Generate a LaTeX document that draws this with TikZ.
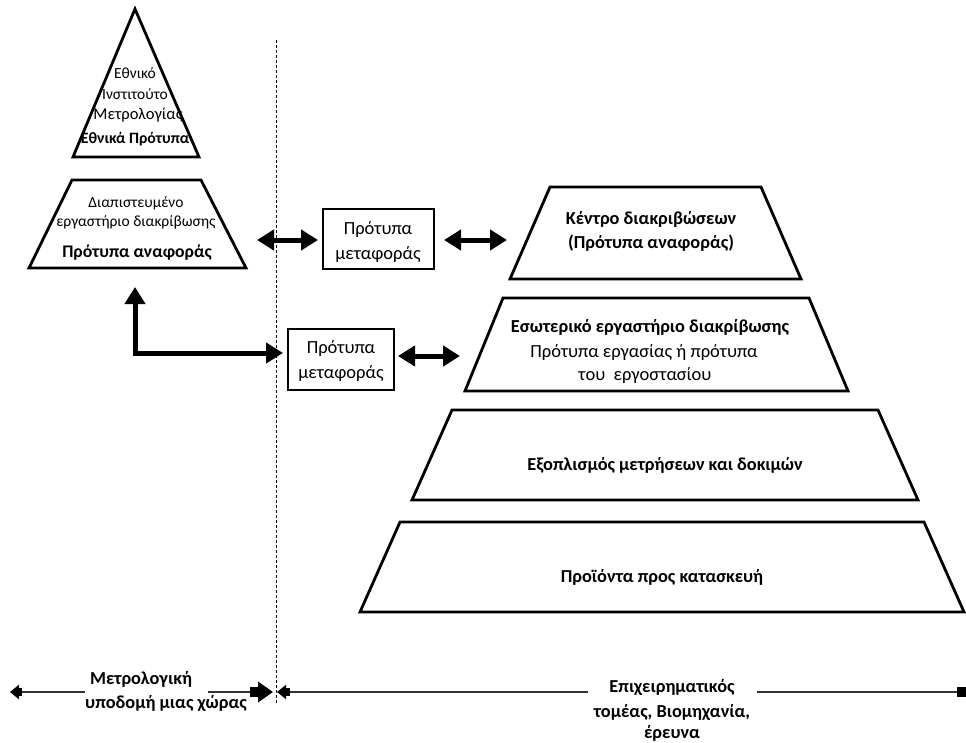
\documentclass[tikz,border=0pt]{standalone}
\usepackage{fontspec}
\setmainfont{Carlito}
\usetikzlibrary{arrows.meta}
\tikzset{
  shapeline/.style={line width=2.8pt, line join=miter},
  bigarrow/.style={line width=5pt, {Triangle[length=17pt,width=20pt]}-{Triangle[length=17pt,width=20pt]}},
  thinline/.style={line width=1.2pt, black!80},
  stubL/.style={line width=8pt, -{Triangle[length=9pt,width=14pt]}},
  stubB/.style={line width=10pt, -{Triangle[length=15pt,width=20pt]}},
  txt/.style={font=\fontsize{18.5}{20}\selectfont, align=center, inner sep=0pt},
  btxt/.style={font=\fontsize{18.3}{20}\selectfont\bfseries, align=center, inner sep=0pt},
  stxt/.style={font=\fontsize{15.5}{18}\selectfont, align=center, inner sep=0pt},
  sbtxt/.style={font=\fontsize{15.8}{18}\selectfont\bfseries, align=center, inner sep=0pt},
}
\begin{document}
\begin{tikzpicture}[x=1pt,y=-1pt]
\useasboundingbox (0,0) rectangle (966,742);
% shapes
\draw[shapeline] (135,9) -- (199,157) -- (73,157) -- cycle;
\draw[shapeline] (72,180) -- (201,180) -- (246,268) -- (29,268) -- cycle;
\draw[shapeline] (550,187) -- (761,187) -- (801,279) -- (510,279) -- cycle;
\draw[shapeline] (503,298) -- (809,298) -- (848,391) -- (465,391) -- cycle;
\draw[shapeline] (452,410) -- (878,410) -- (918,500) -- (412,500) -- cycle;
\draw[shapeline] (400,522) -- (924,522) -- (964,612) -- (360,612) -- cycle;
\draw[shapeline] (323,209) rectangle (434,269);
\draw[shapeline] (288,329) rectangle (394,390);
% dashed divider
\coordinate (dtop) at (276,40);
\coordinate (dbot) at (276,704);
\draw[line width=0.8pt, dash pattern=on 3pt off 2pt] (dtop) -- (dbot);
% texts
\node[stxt] (t1) at (135,73) {Εθνικό};
\node[stxt] (t2) at (135,94) {Ινστιτούτο};
\node[stxt, font=\fontsize{16.5}{18}\selectfont] (t3) at (138,115) {Μετρολογίας};
\node[sbtxt] (t4) at (135,139) {Εθνικά Πρότυπα};
\node[stxt] (l1) at (136,203) {Διαπιστευμένο};
\node[stxt] (l2) at (136,222) {εργαστήριο διακρίβωσης};
\node[sbtxt, font=\fontsize{17.7}{18}\selectfont\bfseries] (l3) at (137,253) {Πρότυπα αναφοράς};
\node[txt] (b1a) at (378,229) {Πρότυπα};
\node[txt] (b1b) at (378,254) {μεταφοράς};
\node[txt] (b2a) at (341,348) {Πρότυπα};
\node[txt] (b2b) at (341,373) {μεταφοράς};
\node[btxt] (r1a) at (651,219) {Κέντρο διακριβώσεων};
\node[btxt] (r1b) at (651,243) {(Πρότυπα αναφοράς)};
\node[btxt] (r2a) at (650,327) {Εσωτερικό εργαστήριο διακρίβωσης};
\node[txt] (r2b) at (644,352) {Πρότυπα εργασίας ή πρότυπα};
\node[txt] (r2c) at (645,375) {του\ \ εργοστασίου};
\node[btxt] (r3) at (665,465) {Εξοπλισμός μετρήσεων και δοκιμών};
\node[btxt] (r4) at (662,577) {Προϊόντα προς κατασκευή};
\node[btxt] (m1) at (141,679) {Μετρολογική};
\node[btxt] (m2) at (166,703) {υποδομή μιας χώρας};
\node[btxt] (e1) at (672,687) {Επιχειρηματικός};
\node[btxt] (e2) at (672,712) {τομέας, Βιομηχανία,};
\node[btxt] (e3) at (672,733) {έρευνα};
% thick arrows
\coordinate (a1l) at (257,240); \coordinate (a1r) at (318,240);
\coordinate (a2l) at (444,240); \coordinate (a2r) at (507,240);
\coordinate (a3l) at (398,356); \coordinate (a3r) at (460,356);
\draw[bigarrow] (a1l) -- (a1r);
\draw[bigarrow] (a2l) -- (a2r);
\draw[bigarrow] (a3l) -- (a3r);
\coordinate (eup) at (135,287); \coordinate (ecorner) at (135,353); \coordinate (eright) at (283,353);
\draw[bigarrow, line join=miter] (eup) -- (ecorner) -- (eright);
% bottom axis
\coordinate (bL) at (10,692); \coordinate (bL2) at (22,692); \coordinate (g1) at (85,692);
\coordinate (g2) at (208,692); \coordinate (bM) at (250,692); \coordinate (bMt) at (273,692);
\coordinate (bN) at (290,692); \coordinate (bNt) at (277,692);
\coordinate (g3) at (588,692); \coordinate (g4) at (757,692);
\coordinate (bR) at (957,692); \coordinate (bRt) at (966,692);
\draw[thinline] (bL2) -- (g1);
\draw[thinline] (g2) -- (bM);
\draw[thinline] (bN) -- (g3);
\draw[thinline] (g4) -- (bR);
\draw[stubL] (bL2) -- (bL);
\draw[stubB] (bM) -- (bMt);
\draw[stubL] (bN) -- (bNt);
\draw[line width=10pt] (bR) -- (bRt);
\end{tikzpicture}
\end{document}
